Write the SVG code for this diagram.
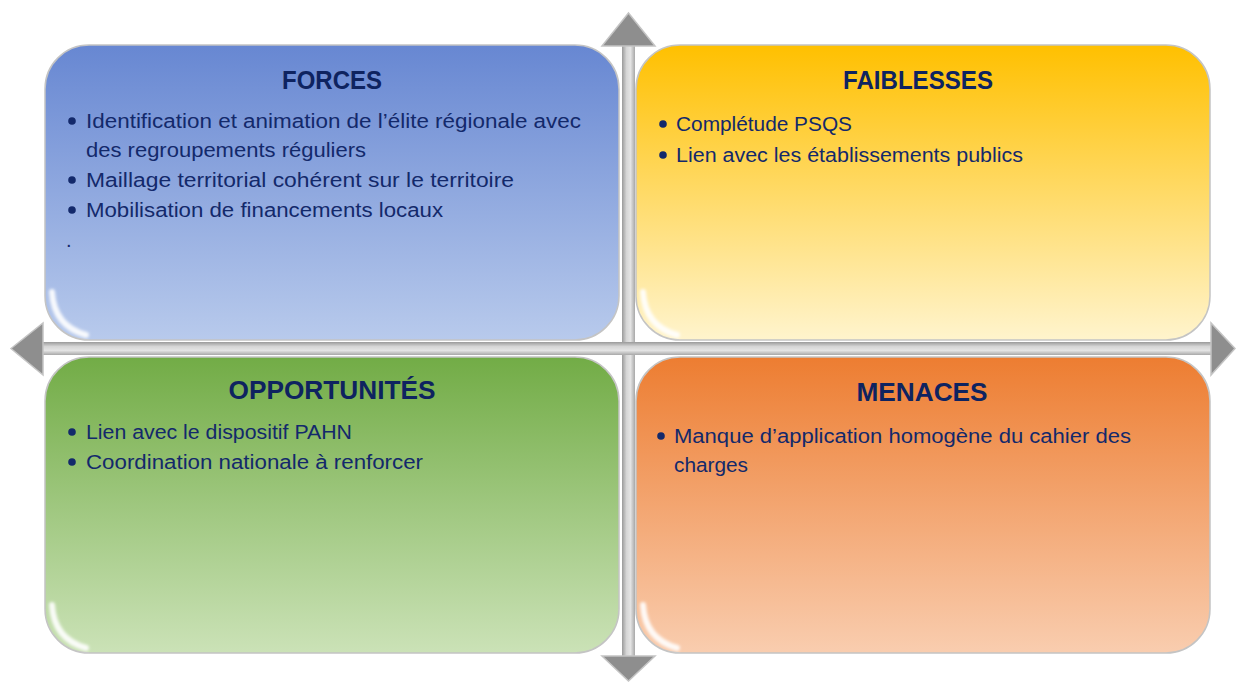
<svg xmlns="http://www.w3.org/2000/svg" width="1236" height="682" viewBox="0 0 1236 682">
<defs>
<linearGradient id="gBlue" x1="0" y1="0" x2="0" y2="1"><stop offset="0" stop-color="#6787D2"/><stop offset="1" stop-color="#B8CAEC"/></linearGradient>
<linearGradient id="gYellow" x1="0" y1="0" x2="0" y2="1"><stop offset="0" stop-color="#FFC000"/><stop offset="1" stop-color="#FFF4CD"/></linearGradient>
<linearGradient id="gGreen" x1="0" y1="0" x2="0" y2="1"><stop offset="0" stop-color="#72AC46"/><stop offset="1" stop-color="#CBE2B7"/></linearGradient>
<linearGradient id="gOrange" x1="0" y1="0" x2="0" y2="1"><stop offset="0" stop-color="#ED7D31"/><stop offset="1" stop-color="#F9CDAF"/></linearGradient>
<linearGradient id="gAxisV" x1="0" y1="0" x2="1" y2="0"><stop offset="0" stop-color="#9A9A9A"/><stop offset="0.35" stop-color="#D6D6D6"/><stop offset="0.65" stop-color="#E4E4E4"/><stop offset="1" stop-color="#A8A8A8"/></linearGradient>
<linearGradient id="gAxisH" x1="0" y1="0" x2="0" y2="1"><stop offset="0" stop-color="#9A9A9A"/><stop offset="0.35" stop-color="#D6D6D6"/><stop offset="0.65" stop-color="#E4E4E4"/><stop offset="1" stop-color="#A8A8A8"/></linearGradient>
<filter id="blur" x="-20%" y="-50%" width="140%" height="200%"><feGaussianBlur stdDeviation="1.8"/></filter>
</defs>
<style>
.box{stroke:#C4C4C4;stroke-width:1.5}
.shine{fill:none;stroke:#FFFFFF;stroke-opacity:0.45;stroke-width:5;stroke-linecap:round;filter:url(#blur)}
.glow{fill:none;stroke:#FFFFFF;stroke-opacity:0.9;stroke-width:6;stroke-linecap:round;filter:url(#blur)}
.title{font-family:"Liberation Sans",Arial,sans-serif;font-weight:bold;font-size:26px;fill:#0E2360;text-anchor:middle}
.item{font-family:"Liberation Sans",Arial,sans-serif;font-size:20px;fill:#13296B}
.dot{fill:#13296B}
.head{fill:#8E8E8E;stroke:#C4C4C4;stroke-width:1.5}
</style>

<g id="axes">
<rect x="622" y="44" width="13" height="614" fill="url(#gAxisV)"/>
<rect x="41" y="342" width="1172" height="13" fill="url(#gAxisH)"/>
<polygon class="head" points="628.5,13 655,46 602,46"/>
<polygon class="head" points="628.5,681 655,656 602,656"/>
<polygon class="head" points="11,348.5 43,323 43,375"/>
<polygon class="head" points="1235,348.5 1211,323 1211,375"/>
</g>

<g id="forces">
<rect class="box" x="45" y="45" width="574" height="295" rx="44" fill="url(#gBlue)"/>
<path class="shine" d="M95 52 H570"/>
<path class="glow" d="M52 292 Q54 326 86 335"/>
<text class="title" x="332" y="89" textLength="100" lengthAdjust="spacingAndGlyphs">FORCES</text>
<circle class="dot" cx="72" cy="121" r="3.8"/>
<text class="item" x="86" y="128" textLength="495" lengthAdjust="spacingAndGlyphs">Identification et animation de l’élite régionale avec</text>
<text class="item" x="86" y="157" textLength="280" lengthAdjust="spacingAndGlyphs">des regroupements réguliers</text>
<circle class="dot" cx="72" cy="180" r="3.8"/>
<text class="item" x="86" y="187" textLength="428" lengthAdjust="spacingAndGlyphs">Maillage territorial cohérent sur le territoire</text>
<circle class="dot" cx="72" cy="210" r="3.8"/>
<text class="item" x="86" y="217" textLength="357" lengthAdjust="spacingAndGlyphs">Mobilisation de financements locaux</text>
<text class="item" x="66" y="247">.</text>
</g>

<g id="faiblesses">
<rect class="box" x="636" y="45" width="574" height="295" rx="44" fill="url(#gYellow)"/>
<path class="shine" d="M686 52 H1161"/>
<path class="glow" d="M643 292 Q645 326 677 335"/>
<text class="title" x="918" y="89" textLength="150" lengthAdjust="spacingAndGlyphs">FAIBLESSES</text>
<circle class="dot" cx="663" cy="124" r="3.8"/>
<text class="item" x="676" y="131" textLength="176" lengthAdjust="spacingAndGlyphs">Complétude PSQS</text>
<circle class="dot" cx="663" cy="155" r="3.8"/>
<text class="item" x="676" y="162" textLength="347" lengthAdjust="spacingAndGlyphs">Lien avec les établissements publics</text>
</g>

<g id="opportunites">
<rect class="box" x="45" y="357" width="574" height="296" rx="44" fill="url(#gGreen)"/>
<path class="shine" d="M95 364 H570"/>
<path class="glow" d="M52 605 Q54 639 86 648"/>
<text class="title" x="332" y="399" textLength="207" lengthAdjust="spacingAndGlyphs">OPPORTUNITÉS</text>
<circle class="dot" cx="72" cy="432" r="3.8"/>
<text class="item" x="86" y="439" textLength="266" lengthAdjust="spacingAndGlyphs">Lien avec le dispositif PAHN</text>
<circle class="dot" cx="72" cy="462" r="3.8"/>
<text class="item" x="86" y="469" textLength="337" lengthAdjust="spacingAndGlyphs">Coordination nationale à renforcer</text>
</g>

<g id="menaces">
<rect class="box" x="636" y="357" width="574" height="296" rx="44" fill="url(#gOrange)"/>
<path class="shine" d="M686 364 H1161"/>
<path class="glow" d="M643 605 Q645 639 677 648"/>
<text class="title" x="922" y="401" textLength="131" lengthAdjust="spacingAndGlyphs">MENACES</text>
<circle class="dot" cx="661" cy="436" r="3.8"/>
<text class="item" x="674" y="443" textLength="457" lengthAdjust="spacingAndGlyphs">Manque d’application homogène du cahier des</text>
<text class="item" x="674" y="472" textLength="74" lengthAdjust="spacingAndGlyphs">charges</text>
</g>
</svg>
